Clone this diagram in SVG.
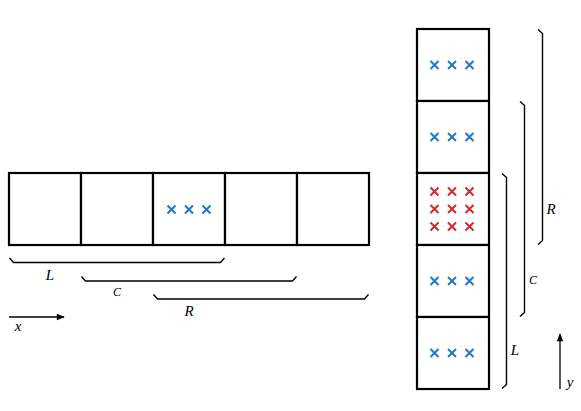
<svg xmlns="http://www.w3.org/2000/svg" width="581" height="411" viewBox="0 0 581 411">
<defs>
<style>
.cell{fill:#fff;stroke:#000;stroke-width:2.2}
.bx{stroke:#1f74d0;stroke-width:2;fill:none}
.rx{stroke:#d62728;stroke-width:2;fill:none}
.br{stroke:#000;stroke-width:1.4;fill:none;stroke-linejoin:round}
.ax{stroke:#000;stroke-width:1.3;fill:none}
.lbl{font-family:"Liberation Serif",serif;font-style:italic;font-size:15px;fill:#000}
.lbls{font-family:"Liberation Serif",serif;font-style:italic;font-size:12px;fill:#000}
</style>
<path id="x" d="M-4,-4 L4,4 M-4,4 L4,-4"/>
<marker id="ah" viewBox="0 0 10 10" refX="9" refY="5" markerWidth="9" markerHeight="8" markerUnits="userSpaceOnUse" orient="auto">
<path d="M0,1 L10,5 L0,9 Z" fill="#000"/>
</marker>
</defs>
<rect width="581" height="411" fill="#fff"/>

<g id="row">
<g id="h1"><rect class="cell" x="9" y="173" width="72" height="72"/></g>
<g id="h2"><rect class="cell" x="81" y="173" width="72" height="72"/></g>
<g id="h3"><rect class="cell" x="153" y="173" width="72" height="72"/>
<use href="#x" class="bx" x="171.5" y="209.5"/><use href="#x" class="bx" x="189" y="209.5"/><use href="#x" class="bx" x="206.5" y="209.5"/></g>
<g id="h4"><rect class="cell" x="225" y="173" width="72" height="72"/></g>
<g id="h5"><rect class="cell" x="297" y="173" width="72" height="72"/></g>
</g>

<g id="col">
<g id="v1"><rect class="cell" x="417" y="29" width="72" height="72"/>
<use href="#x" class="bx" x="434.5" y="65"/><use href="#x" class="bx" x="452" y="65"/><use href="#x" class="bx" x="469.5" y="65"/></g>
<g id="v2"><rect class="cell" x="417" y="101" width="72" height="72"/>
<use href="#x" class="bx" x="434.5" y="137"/><use href="#x" class="bx" x="452" y="137"/><use href="#x" class="bx" x="469.5" y="137"/></g>
<g id="v3"><rect class="cell" x="417" y="173" width="72" height="72"/>
<use href="#x" class="rx" x="434.5" y="191.5"/><use href="#x" class="rx" x="452" y="191.5"/><use href="#x" class="rx" x="469.5" y="191.5"/>
<use href="#x" class="rx" x="434.5" y="209"/><use href="#x" class="rx" x="452" y="209"/><use href="#x" class="rx" x="469.5" y="209"/>
<use href="#x" class="rx" x="434.5" y="226.5"/><use href="#x" class="rx" x="452" y="226.5"/><use href="#x" class="rx" x="469.5" y="226.5"/></g>
<g id="v4"><rect class="cell" x="417" y="245" width="72" height="72"/>
<use href="#x" class="bx" x="434.5" y="281"/><use href="#x" class="bx" x="452" y="281"/><use href="#x" class="bx" x="469.5" y="281"/></g>
<g id="v5"><rect class="cell" x="417" y="317" width="72" height="72"/>
<use href="#x" class="bx" x="434.5" y="353"/><use href="#x" class="bx" x="452" y="353"/><use href="#x" class="bx" x="469.5" y="353"/></g>
</g>

<g id="connectors">
<path class="br" d="M9.5,258 L13.5,262.5 L220.5,262.5 L224.5,258"/>
<path class="br" d="M81.5,276.5 L85.5,281 L292.5,281 L296.5,276.5"/>
<path class="br" d="M153.5,294.5 L157.5,299 L364.5,299 L368.5,294.5"/>
<path class="br" d="M502,173.5 L506.5,177.5 L506.5,384.5 L502,388.5"/>
<path class="br" d="M520,101.5 L524.5,105.5 L524.5,312.5 L520,316.5"/>
<path class="br" d="M538,29.5 L542.5,33.5 L542.5,240.5 L538,244.5"/>
<path class="ax" d="M9,317 L64,317" marker-end="url(#ah)"/>
<path class="ax" d="M560,389 L560,334" marker-end="url(#ah)"/>
</g>

<g id="labels">
<text class="lbl" x="50" y="280" text-anchor="middle">L</text>
<text class="lbls" x="117" y="296" text-anchor="middle">C</text>
<text class="lbl" x="189" y="316" text-anchor="middle">R</text>
<text class="lbl" x="18" y="331" text-anchor="middle">x</text>
<text class="lbl" x="515" y="355" text-anchor="middle">L</text>
<text class="lbls" x="533" y="284" text-anchor="middle">C</text>
<text class="lbl" x="551" y="214" text-anchor="middle">R</text>
<text class="lbl" x="570" y="387" text-anchor="middle">y</text>
</g>
</svg>
